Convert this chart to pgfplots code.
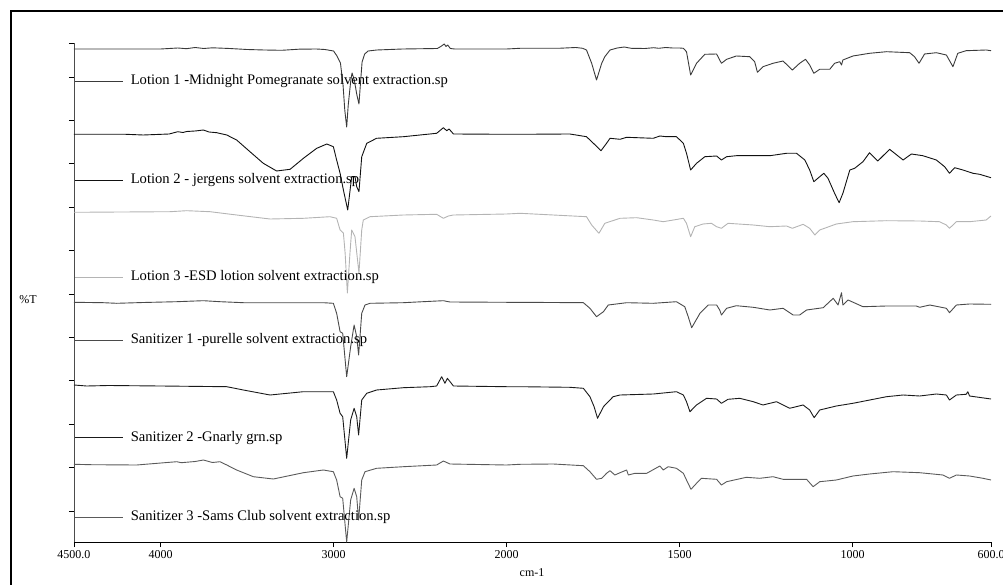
\documentclass[border=0pt]{standalone}
\usepackage{pgfplots}
\pgfplotsset{compat=1.18}
\usepackage{pgfplotstable}
\usepackage{fontspec}
\setmainfont{Liberation Serif}
\definecolor{cL1}{HTML}{3A3A3A}
\definecolor{cL2}{HTML}{111111}
\definecolor{cL3}{HTML}{B4B4B4}
\definecolor{cS1}{HTML}{4A4A4A}
\definecolor{cS2}{HTML}{1A1A1A}
\definecolor{cS3}{HTML}{5A5A5A}

\pgfplotstableread{
wn t
4500 493
4000 493
3950 493.5
3900 494
3850 493.3
3800 494.5
3750 493.5
3700 494.2
3600 493.5
3500 492.5
3400 492
3300 491.7
3200 492.8
3100 493
3050 492.5
3000 491
2980 486
2960 479
2945 457
2935 432
2924 415
2915 437
2900 462
2893 469
2880 462
2865 447
2853 438
2845 457
2835 480
2820 488
2800 491
2750 492
2600 493
2400 493.5
2380 495.5
2360 498
2350 495.5
2340 497
2325 493.5
2300 493
2000 493
1961 493.7
1850 493.7
1800 494.5
1780 493.7
1769 492
1754 478.7
1740 462
1725 478.7
1716 485.3
1701 492
1680 494
1660 495
1640 493.7
1600 493.5
1575 494.3
1560 493.7
1540 494.5
1520 494
1500 494
1489 493.7
1480 490.3
1468 467
1451 478.7
1427 487.7
1393 488
1384 482
1379 478.7
1364 482.7
1336 486
1297 485.3
1283 480.3
1275 469.7
1259 475.3
1230 478.7
1201 481
1174 472
1153 478.7
1136 482.7
1124 477
1112 468.7
1095 472.7
1066 472.7
1052 478.7
1037 480.3
1032 477
1028 482
999 486
951 488.7
902 490.3
835 489.3
821 485.3
808 478.7
792 488
758 489.3
729 487
710 475.3
696 488.7
672 491.3
614 492
600 491.3
}\lotionA

\pgfplotstableread{
wn t
4500 407.7
4200 407.7
4100 407
3950 408
3900 410.3
3870 409.5
3849 410.5
3800 411
3752 412
3720 410
3675 409.3
3617 407
3560 402
3483 390.3
3406 378.7
3329 371
3251 372.7
3174 383.7
3097 393.7
3039 398
3001 395.3
2982 382
2962 368.7
2943 352
2918 332
2895 365.3
2876 365.3
2866 355.3
2853 350.3
2837 385.3
2808 398.7
2751 403.7
2596 405.3
2404 408.7
2365 414.3
2346 411.3
2332 413
2307 408
2000 407.7
1961 407.7
1817 408
1769 405.3
1749 398.7
1727 391.3
1711 398.7
1701 403.7
1672 402.7
1653 404.7
1576 403.7
1557 406
1538 405.3
1509 405.3
1489 398.7
1480 388.7
1468 372
1451 378.7
1427 385.3
1393 386
1379 382
1364 385.3
1336 386.3
1287 386.3
1239 386.3
1191 388.7
1162 388.7
1138 382
1124 372
1112 360.3
1095 365.3
1083 368.7
1071 363.7
1052 348.7
1039 339.3
1028 348.7
1008 372
994 373.7
970 380.3
951 389.3
927 381
893 392.7
854 382
830 388
797 386.3
758 382
734 375.3
720 368.7
705 374.3
681 372
652 368.7
633 367.7
600 364.3
}\lotionB

\pgfplotstableread{
wn t
4500 329.7
3945 330.3
3849 331.3
3714 330.3
3560 327
3367 323
3174 323.7
3020 325.3
2982 323.7
2962 312
2943 309
2933 289
2920 249
2905 289
2895 312
2876 305.3
2853 269
2837 312
2828 322
2789 325.3
2596 327
2404 327.7
2365 323.7
2336 326
2307 327
2000 328
1961 328.7
1769 325.3
1754 317
1733 308.7
1716 318.7
1672 323.7
1624 324.3
1576 322
1547 320.3
1489 323.7
1480 318.7
1468 305.3
1456 315.3
1432 318
1408 318.7
1393 315.3
1379 313.7
1360 318.7
1287 317
1239 315.3
1191 316
1174 313.7
1143 317.7
1124 313.7
1109 307
1095 312
1047 318
999 320.3
902 321.3
806 321
749 320.3
729 317
720 313.7
700 320.3
662 320.3
614 322
600 326
}\lotionC

\pgfplotstableread{
wn t
4500 239.7
4330 239.3
4253 238.7
4100 239.5
3906 240.3
3800 241
3752 241.3
3656 240.3
3521 239.3
3059 239.3
3001 238.7
2982 228.7
2962 210.3
2947 208.7
2924 165.3
2901 195.3
2881 217
2866 205.3
2855 187
2837 228.7
2818 237
2789 238.7
2596 239.3
2519 240
2365 241.3
2327 240
2000 239.7
1961 239.7
1778 239.3
1759 233.7
1740 225.3
1720 230.3
1706 237
1653 239.3
1576 238.7
1509 240.3
1485 235.3
1475 225.3
1465 214.3
1441 228.7
1417 237
1393 237
1384 232
1379 227
1364 233.7
1336 236.3
1287 234.7
1239 232
1201 233.7
1172 227
1153 227
1133 232
1085 234.3
1056 243.7
1042 237
1032 249.3
1028 237
1013 242
970 235.3
902 236
816 236
806 234.7
777 237
729 233.7
720 229.3
700 237
662 238
600 237.7
}\sanA

\pgfplotstableread{
wn t
4500 157
4427 156
4300 156.5
4000 156
3617 155.3
3521 152
3367 147
3174 150.3
3001 150.3
2982 142
2962 128.7
2947 125.3
2924 83.7
2901 122
2881 133.7
2866 125.3
2855 107
2837 142
2808 148.7
2751 152
2596 154.3
2442 155.3
2404 156
2375 165.3
2356 158.7
2342 163.7
2307 156
2000 155.3
1961 155.3
1817 154.7
1778 153.7
1759 145.3
1747 135.3
1737 123.7
1720 135.3
1692 145.3
1672 147
1576 148
1509 150.3
1489 147
1480 140.3
1470 130.3
1451 137
1422 143.7
1393 143
1379 138.7
1360 142.7
1326 143.7
1287 140.3
1259 137
1220 140.3
1182 133.7
1143 137
1124 132
1111 124.3
1095 132
1047 136
999 138.7
902 145.3
854 147
806 146
758 148
729 147
720 142
700 147
672 147.7
667 150.3
662 146
600 143
}\sanB

\pgfplotstableread{
wn t
4500 77.7
4400 77.3
4138 77
3906 80.3
3880 79.3
3800 80.5
3752 82
3700 79.5
3656 80.3
3617 77
3560 72
3463 65.3
3348 63
3174 69.3
3059 72
3001 70.3
2982 62
2962 45.3
2947 43.7
2924 0
2901 42
2881 53.7
2866 45.3
2855 22
2837 62
2818 70.3
2751 73.7
2596 75.3
2404 77
2365 81
2327 78
2000 77
1961 77.7
1865 78
1778 76.3
1759 70.3
1740 62.7
1725 63.7
1711 68.7
1701 71.3
1687 67
1672 69.3
1653 72
1648 67
1629 68.7
1595 68.7
1557 76
1547 72
1533 75.3
1509 73.7
1489 68.7
1480 62
1467 52.7
1451 58.7
1437 63.7
1393 62.7
1379 57
1364 60.3
1307 64.7
1268 63.7
1230 65.3
1201 62.7
1133 62.7
1114 55.3
1095 60.3
1047 62
999 66
951 68
883 70.3
806 69.3
739 67
720 63.7
700 67
662 66
623 63.7
600 62
}\sanC

\begin{document}
\begin{tikzpicture}
\begin{axis}[
  name=ax,
  scale only axis, width=917pt, height=499pt,
  x coord trafo/.code={\pgfmathparse{#1>=2000 ? 4500-#1 : 2500+2*(2000-#1)}},
  xmin=4500, xmax=600, ymin=0, ymax=499,
  axis x line=bottom, axis y line=left,
  axis line style={-},
  y axis line style={black!70},
  xtick={4500,4000,3000,2000,1500,1000,600},
  xticklabels={4500.0,4000,3000,2000,1500,1000,600.0},
  ytick={31,74.4,117.8,161.2,204.6,248,291.4,334.8,378.2,421.6,465,499},
  yticklabels={},
  tick align=outside, major tick length=5pt,
  tick style={black, line width=0.8pt},
  ticklabel style={font=\fontsize{12}{14}\selectfont},
  /pgf/number format/assume math mode=true,
  clip=true,
  every axis plot/.append style={line width=0.9pt, line join=round},
]
\addplot[cL1] table[x=wn,y=t] {\lotionA};
\addplot[cL2] table[x=wn,y=t] {\lotionB};
\addplot[cL3] table[x=wn,y=t] {\lotionC};
\addplot[cS1] table[x=wn,y=t] {\sanA};
\addplot[cS2] table[x=wn,y=t] {\sanB};
\addplot[cS3] table[x=wn,y=t] {\sanC};
\end{axis}
\pgfresetboundingbox
\begin{scope}[x=1pt, y=1pt, shift={(ax.south west)}, xshift=-74pt, yshift=-42pt]
\useasboundingbox (0,0) rectangle (1003,584);
\draw[line width=2pt] (11,-20) -- (11,573) -- (1030,573);
\begin{scope}[font=\fontsize{14.6}{17}\selectfont]
\draw[cL1, line width=0.9pt] (75,503) -- (123,503) node[black, anchor=west, xshift=4pt] {Lotion 1 -Midnight Pomegranate solvent extraction.sp};
\draw[cL2, line width=0.9pt] (75,404) -- (123,404) node[black, anchor=west, xshift=4pt] {Lotion 2 - jergens solvent extraction.sp};
\draw[cL3, line width=0.9pt] (75,307) -- (123,307) node[black, anchor=west, xshift=4pt] {Lotion 3 -ESD lotion solvent extraction.sp};
\draw[cS1, line width=0.9pt] (75,244) -- (123,244) node[black, anchor=west, xshift=4pt] {Sanitizer 1 -purelle solvent extraction.sp};
\draw[cS2, line width=0.9pt] (75,146.3) -- (123,146.3) node[black, anchor=west, xshift=4pt] {Sanitizer 2 -Gnarly grn.sp};
\draw[cS3, line width=0.9pt] (75,67) -- (123,67) node[black, anchor=west, xshift=4pt] {Sanitizer 3 -Sams Club solvent extraction.sp};
\end{scope}
\node[font=\fontsize{12}{14}\selectfont] at (532,11) {cm-1};
\node[font=\fontsize{12}{14}\selectfont] at (28,284) {\%T};
\end{scope}
\end{tikzpicture}
\end{document}
